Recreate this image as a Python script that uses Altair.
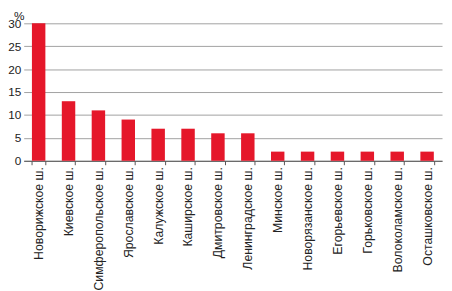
import altair as alt
import pandas as pd

categories = ["Новорижское ш.", "Киевское ш.", "Симферопольское ш.", "Ярославское ш.",
              "Калужское ш.", "Каширское ш.", "Дмитровское ш.", "Ленинградское ш.",
              "Минское ш.", "Новорязанское ш.", "Егорьевское ш.", "Горьковское ш.",
              "Волоколамское ш.", "Осташковское ш."]
values = [30, 13, 11, 9, 7, 7, 6, 6, 2, 2, 2, 2, 2, 2]
y_ticks = [0, 5, 10, 15, 20, 25, 30]

df = pd.DataFrame({"cat": categories, "val": values})

chart = alt.Chart(df).mark_bar(color="#E5172A").encode(
    x=alt.X("cat:N", sort=categories,
            scale=alt.Scale(paddingInner=0.55, paddingOuter=0.275),
            axis=alt.Axis(title=None, labelAngle=-90, labelFontSize=12.5, labelColor="#222",
                          labelFont="Liberation Sans", tickBand="extent", tickSize=4,
                          tickColor="#555", domainColor="#555", labelPadding=2, grid=False)),
    y=alt.Y("val:Q", scale=alt.Scale(domain=[0, 30], nice=False),
            axis=alt.Axis(title="%", titleAngle=0, titleX=-5, titleY=-13, titleAlign="center",
                          titleBaseline="top", titleFont="Liberation Sans", titleFontSize=12,
                          titleFontWeight="normal", titleColor="#222",
                          values=y_ticks, labelFontSize=12, labelFont="Liberation Sans",
                          labelColor="#222", domain=False, ticks=False, labelPadding=3,
                          gridColor="#a0a0a0", gridWidth=1)),
).properties(
    width=426, height=140,
    autosize=alt.AutoSizeParams(type="none"),
    padding={"left": 16, "top": 13, "right": 2, "bottom": 130},
).configure_view(stroke=None)

chart.save("out.html", embed_options={"renderer": "svg", "actions": False})
